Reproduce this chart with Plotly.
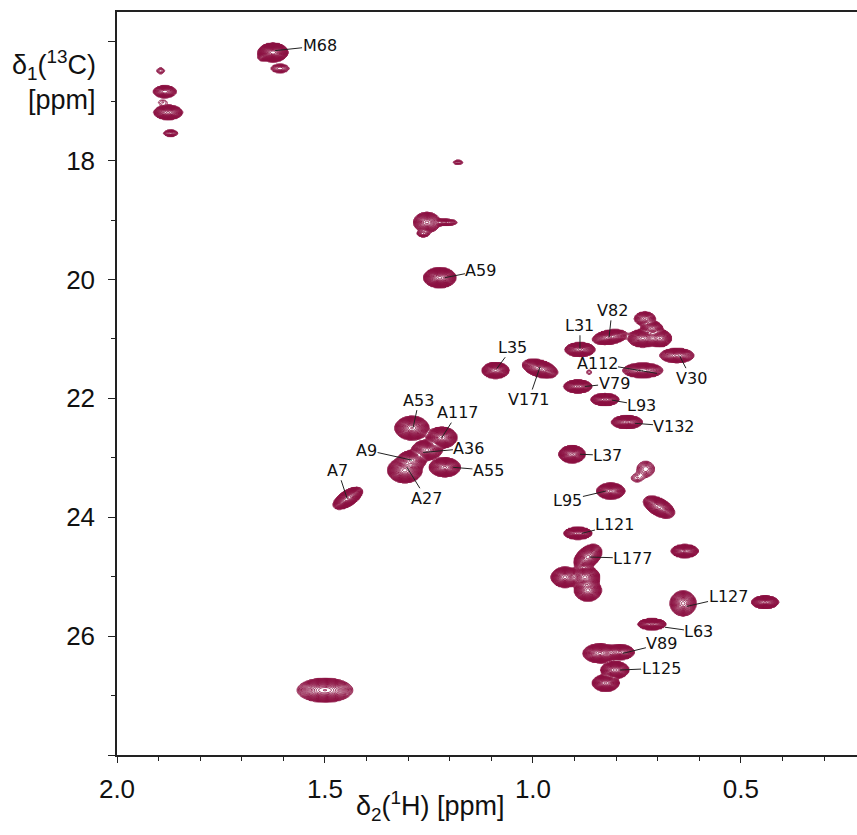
import numpy as np
import plotly.graph_objects as go

# ---- Peak list of the 1H-13C methyl region (ppm, linewidths in ppm) ----
peak_h = [1.895, 1.885, 1.890, 1.877, 1.871, 1.625, 1.608, 1.651, 1.180,
          1.255, 1.212, 1.264, 1.224, 1.090, 0.983, 0.887, 0.815, 0.731,
          0.736, 0.695, 0.714, 0.654, 0.736, 0.865, 0.892, 0.827, 0.774,
          0.906, 0.729, 0.750, 0.813, 0.697, 0.635, 1.291, 1.219, 1.255,
          1.291, 1.308, 1.212, 1.445, 0.892, 0.868, 0.923, 0.875, 0.868,
          0.639, 0.442, 0.714, 0.839, 0.791, 0.803, 0.825, 1.500]
peak_c = [16.49, 16.84, 17.02, 17.19, 17.54, 16.18, 16.45, 16.27, 18.03,
          19.04, 19.04, 19.23, 19.97, 21.53, 21.50, 21.18, 20.97, 20.66,
          20.99, 20.99, 20.82, 21.28, 21.53, 21.56, 21.80, 22.02, 22.40,
          22.94, 23.19, 23.34, 23.56, 23.83, 24.57, 22.50, 22.66, 22.87,
          23.04, 23.21, 23.16, 23.68, 24.27, 24.67, 25.01, 25.01, 25.23,
          25.45, 25.43, 25.80, 26.29, 26.27, 26.57, 26.79, 26.91]
width_h = [0.0071, 0.0115, 0.0124, 0.0125, 0.0092, 0.0115, 0.0118, 0.0065, 0.0081,
           0.0125, 0.0150, 0.0078, 0.0130, 0.0115, 0.0150, 0.0128, 0.0152, 0.0110,
           0.0128, 0.0105, 0.0100, 0.0160, 0.0180, 0.0055, 0.0120, 0.0120, 0.0132,
           0.0110, 0.0121, 0.0107, 0.0120, 0.0132, 0.0118, 0.0140, 0.0125, 0.0130,
           0.0120, 0.0138, 0.0130, 0.0120, 0.0120, 0.0118, 0.0118, 0.0118, 0.0115,
           0.0122, 0.0115, 0.0120, 0.0142, 0.0125, 0.0120, 0.0112, 0.0250]
width_c = [0.037, 0.041, 0.043, 0.043, 0.028, 0.050, 0.038, 0.034, 0.023,
           0.066, 0.026, 0.028, 0.056, 0.047, 0.056, 0.041, 0.045, 0.050,
           0.052, 0.053, 0.045, 0.046, 0.045, 0.039, 0.038, 0.035, 0.038,
           0.050, 0.075, 0.050, 0.047, 0.065, 0.039, 0.068, 0.060, 0.058,
           0.055, 0.070, 0.055, 0.063, 0.035, 0.075, 0.060, 0.064, 0.064,
           0.082, 0.037, 0.032, 0.055, 0.045, 0.050, 0.048, 0.075]
height = [2.5, 20, 1.6, 50, 6, 150, 6, 3, 3,
          30, 8, 6, 100, 60, 60, 60, 50, 15,
          60, 40, 30, 30, 40, 1.8, 60, 60, 60,
          70, 5, 2.5, 60, 60, 50, 80, 80, 60,
          70, 100, 70, 80, 60, 60, 60, 100, 60,
          30, 60, 60, 70, 50, 60, 70, 40]
tilt = [0, 0, 0, 0, 0, 0, 0, 0, 0,
        0, 0, 0, 0, 0, -0.4, 0, 0.3, 0,
        0, 0, 0, 0, 0, 0, 0, 0, 0,
        0, 0, 0, 0, -0.5, 0, 0, 0, 0,
        0, 0, 0, 0.6, 0, 0.4, 0, 0, 0,
        0, 0, 0, 0, 0, 0, 0, 0]

# ---- Assignments: label, peak position, label position (ppm) ----
lab_text = ["M68", "A59", "L35", "V171", "L31", "V82", "V30", "A112", "V79",
            "L93", "V132", "L37", "L95", "A53", "A117", "A36", "A9", "A27",
            "A55", "A7", "L121", "L177", "L127", "L63", "V89", "L125"]
lab_peak_h = [1.620, 1.212, 1.087, 0.983, 0.887, 0.817, 0.647, 0.702, 0.875,
              0.810, 0.755, 0.887, 0.825, 1.288, 1.219, 1.264, 1.291, 1.303,
              1.192, 1.447, 0.882, 0.863, 0.630, 0.683, 0.784, 0.791]
lab_peak_c = [16.15, 19.97, 21.50, 21.47, 21.16, 20.97, 21.29, 21.58, 21.80,
              22.03, 22.42, 22.94, 23.56, 22.49, 22.66, 22.91, 23.04, 23.16,
              23.16, 23.68, 24.27, 24.67, 25.50, 25.85, 26.29, 26.57]
lab_text_h = [1.513, 1.125, 1.049, 1.010, 0.887, 0.810, 0.620, 0.846, 0.805,
              0.738, 0.661, 0.820, 0.916, 1.274, 1.181, 1.154, 1.400, 1.257,
              1.107, 1.469, 0.803, 0.760, 0.531, 0.601, 0.690, 0.692]
lab_text_c = [16.07, 19.85, 21.14, 22.02, 20.77, 20.52, 21.66, 21.41, 21.75,
              22.12, 22.47, 22.96, 23.71, 22.03, 22.24, 22.84, 22.87, 23.68,
              23.21, 23.21, 24.13, 24.69, 25.34, 25.93, 26.13, 26.54]

H_RANGE = [2.0, 0.221]
C_RANGE = [28.0, 15.5]

# ---- Build the spectrum on a grid ----
h = np.linspace(H_RANGE[1], H_RANGE[0], 660)
c = np.linspace(C_RANGE[1], C_RANGE[0], 620)
HH, CC = np.meshgrid(h, c)
spec = np.zeros_like(HH)
for x0, y0, sx, sy, a, r in zip(peak_h, peak_c, width_h, width_c, height, tilt):
    dx = (HH - x0) / sx
    dy = (CC - y0) / sy
    q = (dx * dx - 2 * r * dx * dy + dy * dy) / (1 - r * r)
    spec += a * np.exp(-0.5 * q)

# logarithmic contour spacing (geometric levels)
z = np.round(np.log(np.maximum(spec, 1.0)), 3)

LINE = "#8a1041"
fig = go.Figure()
fig.add_trace(go.Contour(
    x=h, y=c, z=z,
    contours=dict(start=0.1, end=5.6, size=0.17, coloring="lines"),
    colorscale=[[0, LINE], [1, LINE]],
    line=dict(width=0.9, smoothing=1),
    showscale=False, hoverinfo="skip",
))

annos = []
for t, px, py, tx, ty in zip(lab_text, lab_peak_h, lab_peak_c, lab_text_h, lab_text_c):
    annos.append(dict(
        x=px, y=py, ax=tx, ay=ty, xref="x", yref="y", axref="x", ayref="y",
        text=t, showarrow=True, arrowhead=0, arrowwidth=1, arrowcolor="#222",
        standoff=0, startstandoff=0, borderpad=0,
        font=dict(family="DejaVu Sans", size=16, color="#111"),
    ))

TITLE_FONT = dict(family="Liberation Sans", size=27, color="#111")
annos += [
    dict(xref="paper", yref="paper", x=-0.0257, y=0.929, xanchor="right", yanchor="middle",
         text="δ<sub>1</sub>(<sup>13</sup>C)", showarrow=False, font=TITLE_FONT),
    dict(xref="paper", yref="paper", x=-0.0257, y=0.881, xanchor="right", yanchor="middle",
         text="[ppm]", showarrow=False, font=TITLE_FONT),
    dict(xref="paper", yref="paper", x=0.423, y=-0.0686, xanchor="center", yanchor="middle",
         text="δ<sub>2</sub>(<sup>1</sup>H) [ppm]", showarrow=False, font=TITLE_FONT),
]

TICK_FONT = dict(family="Liberation Sans", size=26, color="#111")
fig.update_layout(
    width=857, height=835,
    margin=dict(l=117, r=0, t=12, b=80),
    paper_bgcolor="white", plot_bgcolor="white",
    showlegend=False,
    annotations=annos,
    xaxis=dict(
        range=H_RANGE, showgrid=False, zeroline=False,
        showline=True, linecolor="#222", linewidth=1.5, mirror=True,
        ticks="outside", ticklen=6, tickwidth=1, tickcolor="#222",
        tickvals=[2.0, 1.5, 1.0, 0.5], ticktext=["2.0", "1.5", "1.0", "0.5"],
        tickfont=TICK_FONT, ticklabelstandoff=4,
        minor=dict(dtick=0.1, tick0=0, ticks="outside", ticklen=4, tickcolor="#222"),
    ),
    yaxis=dict(
        range=C_RANGE, showgrid=False, zeroline=False,
        showline=True, linecolor="#222", linewidth=1.5, mirror=False,
        ticks="outside", ticklen=7, tickwidth=1, tickcolor="#222",
        tickvals=[16, 18, 20, 22, 24, 26, 28], ticktext=["", "18", "20", "22", "24", "26", ""],
        tickfont=TICK_FONT, ticklabelstandoff=8,
        minor=dict(tickvals=[17, 19, 21, 23, 25, 27], ticks="outside", ticklen=4, tickcolor="#222"),
    ),
)

fig.write_html("out.html")
